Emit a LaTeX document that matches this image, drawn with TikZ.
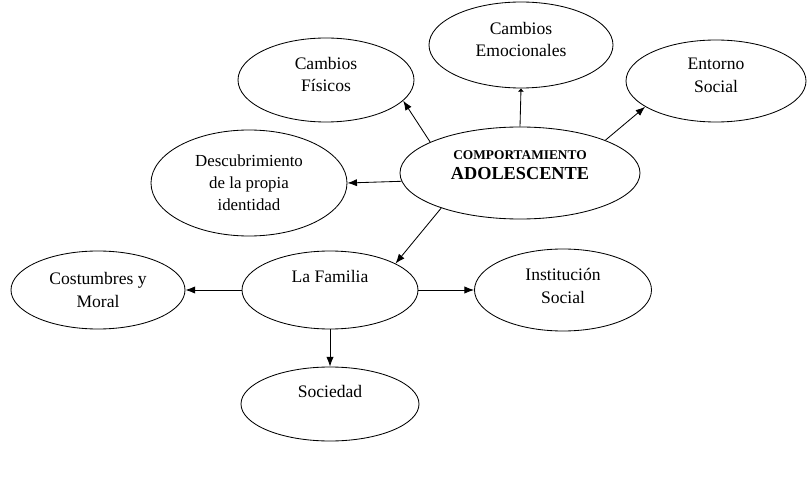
\documentclass[tikz,border=0pt]{standalone}
\usepackage{fontspec}
\setmainfont{Liberation Serif}
\usetikzlibrary{shapes.geometric,arrows.meta}

\begin{document}
\begin{tikzpicture}

\tikzstyle{bnode} = [ellipse,draw,semithick,align=center,inner sep=1pt,font=\fontsize{12.5}{16}\selectfont];
\tikzstyle{barrow} = [semithick,-{Latex[length=2.4mm,width=1.8mm]}];

\useasboundingbox (0,0) rectangle (20.3,12.35);

\node [bnode,minimum width=6.0cm,minimum height=2.3cm] (comp) at (13.0,8.025) {\fontsize{9.5}{12}\selectfont\bfseries COMPORTAMIENTO\\[-2pt]\fontsize{13}{14}\selectfont\bfseries ADOLESCENTE\\[-5pt]~};

\node [bnode,minimum width=4.4cm,minimum height=2.1cm] (fis) at (8.15,10.35) {Cambios\\F\'isicos\\[-8pt]~};
\node [bnode,minimum width=4.6cm,minimum height=2.15cm] (emo) at (13.025,11.225) {Cambios\\Emocionales\\[-8pt]~};
\node [bnode,minimum width=4.5cm,minimum height=2.05cm] (ent) at (17.9,10.325) {Entorno\\Social\\[-8pt]~};
\node [bnode,minimum width=4.9cm,minimum height=2.65cm,font=\fontsize{12}{15.5}\selectfont] (des) at (6.225,7.775) {Descubrimiento\\de la propia\\identidad};

\node [bnode,minimum width=4.4cm,minimum height=1.95cm] (fam) at (8.25,5.1) {La Familia\\[4pt]~};
\node [bnode,minimum width=4.35cm,minimum height=1.95cm] (cos) at (2.45,5.1) {Costumbres y\\Moral};
\node [bnode,minimum width=4.425cm,minimum height=2.05cm] (ins) at (14.075,5.1) {Instituci\'on\\Social\\[-10pt]~};
\node [bnode,minimum width=4.45cm,minimum height=1.85cm] (soc) at (8.25,2.25) {Sociedad\\[2pt]~};

\draw [barrow] (comp.161) -- (fis.345);
\draw [semithick,-{Latex[length=0.8mm,width=1.6mm]}] (comp.north) -- (emo.south);
\draw [barrow] (comp.21) -- (ent.200);
\draw [barrow] (comp.184) -- (des.east);
\draw [barrow] (comp.204) -- (fam.22);

\draw [barrow] (fam.west) -- (cos.east);
\draw [barrow] (fam.east) -- (ins.west);
\draw [barrow] (fam.south) -- (soc.north);

\end{tikzpicture}
\end{document}
